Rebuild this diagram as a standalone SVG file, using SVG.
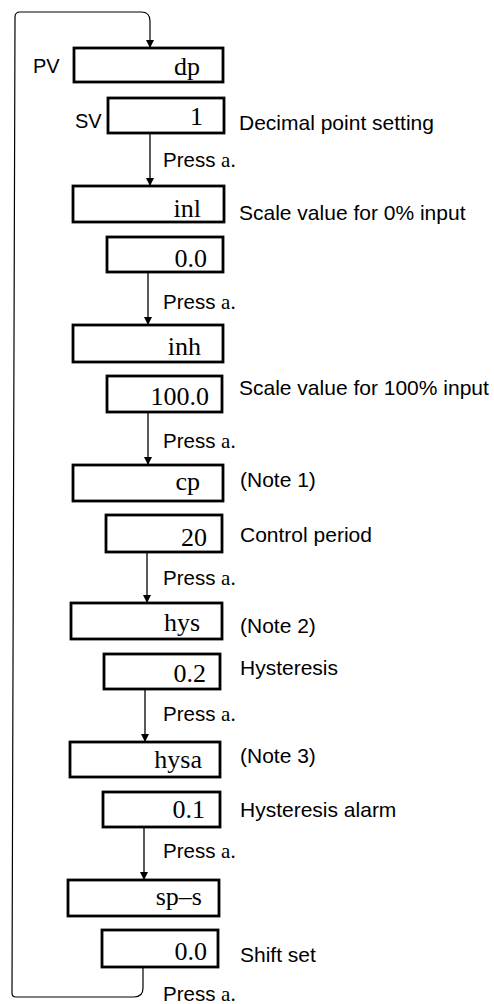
<svg xmlns="http://www.w3.org/2000/svg" width="494" height="1004" viewBox="0 0 494 1004">
<style>
.box{fill:#fff;stroke:#000;stroke-width:2.8}
.val{font-family:"Liberation Serif",serif;font-size:26px;text-anchor:end;fill:#000}
.lbl{font-family:"Liberation Sans",Arial,sans-serif;font-size:21px;fill:#000}
.press{font-family:"Liberation Sans",Arial,sans-serif;font-size:20.5px;fill:#000}
.ser{font-family:"Liberation Serif",serif;font-size:21px}
.ln{fill:none;stroke:#000;stroke-width:1.3}
.loop{fill:none;stroke:#000;stroke-width:1.2}
</style>
<defs>
<marker id="ah" markerWidth="9" markerHeight="8" refX="8" refY="4" orient="auto" markerUnits="userSpaceOnUse"><path d="M0,0 L8,4 L0,8 z" fill="#000"/></marker>
</defs>
<g id="connectors">
<path class="loop" d="M143,967 L143,988 Q143,997 134,997 L16,997 Q12,997 12,993 L15,17 Q15,12 20,12 L141,12 Q150,12 150,21 L150,48" marker-end="url(#ah)"/>
<line class="ln" x1="150" y1="133" x2="150" y2="186" marker-end="url(#ah)"/>
<line class="ln" x1="148" y1="272" x2="148" y2="325" marker-end="url(#ah)"/>
<line class="ln" x1="148" y1="412" x2="148" y2="465" marker-end="url(#ah)"/>
<line class="ln" x1="147" y1="552" x2="147" y2="603" marker-end="url(#ah)"/>
<line class="ln" x1="145" y1="689" x2="145" y2="742" marker-end="url(#ah)"/>
<line class="ln" x1="144" y1="827" x2="144" y2="880" marker-end="url(#ah)"/>
</g>
<g id="press-labels">
<text class="press" x="163" y="167">Press <tspan class="ser">a.</tspan></text>
<text class="press" x="163" y="309">Press <tspan class="ser">a.</tspan></text>
<text class="press" x="163" y="448">Press <tspan class="ser">a.</tspan></text>
<text class="press" x="163" y="585">Press <tspan class="ser">a.</tspan></text>
<text class="press" x="163" y="721">Press <tspan class="ser">a.</tspan></text>
<text class="press" x="163" y="858">Press <tspan class="ser">a.</tspan></text>
<text class="press" x="163" y="1001">Press <tspan class="ser">a.</tspan></text>
</g>
<g id="n-dp"><rect class="box" x="74" y="48" width="149" height="34"/><text class="val" x="200" y="75">dp</text><text class="lbl" x="33" y="73" style="font-size:20px">PV</text></g>
<g id="n-dp-val"><rect class="box" x="108" y="98" width="116" height="35"/><text class="val" x="203" y="125">1</text><text class="lbl" x="75" y="128" style="font-size:20px">SV</text><text class="lbl" x="239" y="130">Decimal point setting</text></g>
<g id="n-inl"><rect class="box" x="73" y="186" width="151" height="36"/><text class="val" x="201" y="217">inl</text><text class="lbl" x="239" y="220">Scale value for 0% input</text></g>
<g id="n-inl-val"><rect class="box" x="107" y="237" width="116" height="35"/><text class="val" x="207" y="267">0.0</text></g>
<g id="n-inh"><rect class="box" x="73" y="325" width="150" height="37"/><text class="val" x="201" y="355">inh</text></g>
<g id="n-inh-val"><rect class="box" x="107" y="376" width="115" height="36"/><text class="val" x="209" y="405">100.0</text><text class="lbl" x="239" y="395">Scale value for 100% input</text></g>
<g id="n-cp"><rect class="box" x="73" y="465" width="150" height="36"/><text class="val" x="200" y="490">cp</text><text class="lbl" x="240" y="487">(Note 1)</text></g>
<g id="n-cp-val"><rect class="box" x="106" y="515" width="116" height="37"/><text class="val" x="207" y="546">20</text><text class="lbl" x="240" y="542">Control period</text></g>
<g id="n-hys"><rect class="box" x="71" y="603" width="151" height="36"/><text class="val" x="200" y="631">hys</text><text class="lbl" x="240" y="633">(Note 2)</text></g>
<g id="n-hys-val"><rect class="box" x="104" y="654" width="116" height="35"/><text class="val" x="206" y="682">0.2</text><text class="lbl" x="240" y="675">Hysteresis</text></g>
<g id="n-hysa"><rect class="box" x="70" y="742" width="150" height="35"/><text class="val" x="202" y="768">hysa</text><text class="lbl" x="240" y="763">(Note 3)</text></g>
<g id="n-hysa-val"><rect class="box" x="103" y="792" width="117" height="35"/><text class="val" x="205" y="818">0.1</text><text class="lbl" x="240" y="817">Hysteresis alarm</text></g>
<g id="n-sps"><rect class="box" x="68" y="880" width="151" height="36"/><text class="val" x="202" y="905">sp–s</text></g>
<g id="n-sps-val"><rect class="box" x="102" y="930" width="116" height="37"/><text class="val" x="207" y="960">0.0</text><text class="lbl" x="240" y="962">Shift set</text></g>
</svg>
